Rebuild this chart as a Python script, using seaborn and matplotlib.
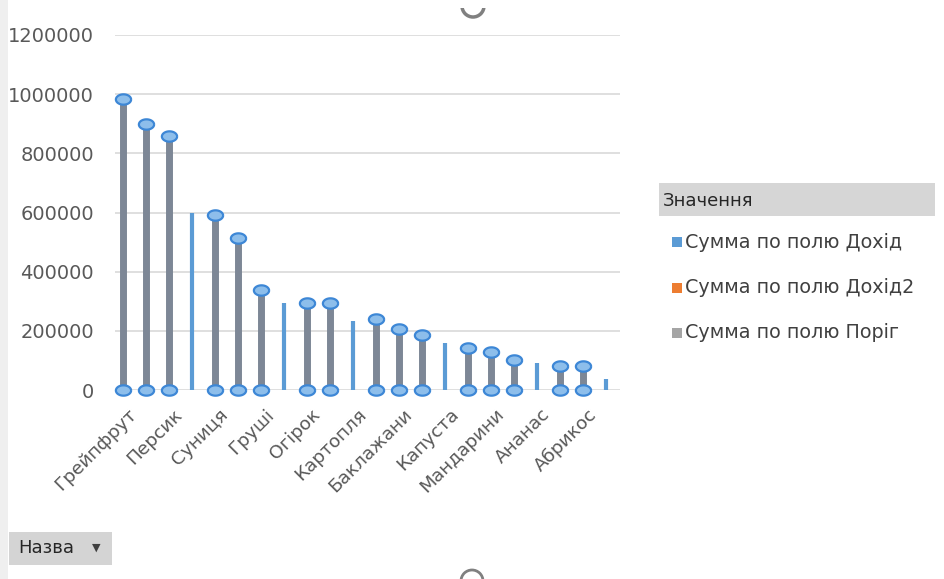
import numpy as np
import pandas as pd
import matplotlib.pyplot as plt
import matplotlib.transforms as mtransforms
from matplotlib.patches import Rectangle, Ellipse
from matplotlib.path import Path
import seaborn as sns

# tick labels (every second category is labelled in the pivot chart)
labels = ["Грейпфрут", "Персик", "Суниця", "Груші", "Огірок", "Картопля",
          "Баклажани", "Капуста", "Мандарини", "Ананас", "Абрикос"]

# Сумма по полю Дохід  (stems with markers), None where category has no such point
dohid = [985000, 898000, 857000, None, 593000, 515000, 339000, None,
         295000, 295000, None, 240000, 207000, 186000, None, 142000,
         129000, 102000, None, 81000, 81000, None]
# Сумма по полю Дохід2 (thin columns without markers)
dohid2 = [None, None, None, 597000, None, None, None, 295000,
          None, None, 234000, None, None, None, 160000, None,
          None, None, 92000, None, None, 37000]
# Сумма по полю Поріг (zero for every category)
porig = [0] * 22

series_names = ["Сумма по полю Дохід", "Сумма по полю Дохід2", "Сумма по полю Поріг"]
series_colors = ["#5B9BD5", "#ED7D31", "#A5A5A5"]

df = pd.DataFrame({"pos": np.arange(len(dohid)),
                   "dohid": pd.to_numeric(pd.Series(dohid), errors="coerce"),
                   "dohid2": pd.to_numeric(pd.Series(dohid2), errors="coerce"),
                   "porig": porig})

sns.set_style("white")
plt.rcParams["font.family"] = ["DejaVu Sans"]

W, H = 944, 579
fig = plt.figure(figsize=(W / 100, H / 100), dpi=100)
ax = fig.add_axes([115 / W, 1 - 390 / H, 505 / W, 355 / H])

# gridlines
for v in range(0, 1200001, 200000):
    ax.axhline(v, color="#D9D9D9", lw=1.2, zorder=0)

m = df.dropna(subset=["dohid"])
ax.vlines(m["pos"], m["porig"], m["dohid"], color="#7D8796", lw=5, zorder=2)
t = df.dropna(subset=["dohid2"])
ax.vlines(t["pos"], t["porig"], t["dohid2"], color="#5B9BD5", lw=3, zorder=2)

# slightly flattened circle like the Excel marker
th = np.linspace(0, 2 * np.pi, 60)
oval = Path(np.column_stack([np.cos(th), 0.68 * np.sin(th)]))

for col in ["dohid", "porig"]:
    sns.scatterplot(data=m, x="pos", y=col, ax=ax, marker=oval, s=120,
                    color="#8DBEEB", edgecolor="#3D87D6", linewidth=1.6,
                    zorder=3, clip_on=False, legend=False)

ax.set_xlim(-0.35, 21.6)
ax.set_ylim(0, 1200000)
ax.set_yticks(range(0, 1200001, 200000))
ax.set_yticklabels([str(v) for v in range(0, 1200001, 200000)])
ax.set_xticks(np.arange(0, 22, 2))
ax.set_xticklabels(labels, rotation=45, ha="right", rotation_mode="anchor")
ax.tick_params(axis="y", length=0, pad=15, labelsize=14, labelcolor="#595959")
ax.tick_params(axis="x", length=0, pad=6, labelsize=13.3, labelcolor="#595959")
shift = mtransforms.ScaledTranslation(0.04, -0.07, fig.dpi_scale_trans)
for lab in ax.get_xticklabels():
    lab.set_transform(lab.get_transform() + shift)
ax.set_xlabel("")
ax.set_ylabel("")
for s in ax.spines.values():
    s.set_visible(False)

# legend panel
fig.add_artist(Rectangle((659 / W, 1 - 216 / H), 276 / W, 33 / H,
                         transform=fig.transFigure, facecolor="#D6D6D6",
                         edgecolor="none"))
fig.text(663 / W, 1 - 201 / H, "Значення", fontsize=13, color="#262626", va="center")
for i, (name, c) in enumerate(zip(series_names, series_colors)):
    y = 242 + 45.5 * i
    fig.add_artist(Rectangle((672 / W, 1 - (y + 5) / H), 10 / W, 10 / H,
                             transform=fig.transFigure, facecolor=c, edgecolor="none"))
    fig.text(685 / W, 1 - y / H, name, fontsize=13.8, color="#404040", va="center")

# field button
fig.add_artist(Rectangle((9 / W, 1 - 565 / H), 103 / W, 33 / H,
                         transform=fig.transFigure, facecolor="#D4D4D4", edgecolor="none"))
fig.text(18 / W, 1 - 548 / H, "Назва", fontsize=13, color="#262626", va="center")
fig.text(92 / W, 1 - 548 / H, "▼", fontsize=8, color="#404040", va="center")

# selection handles and window edge
fig.add_artist(Ellipse((473 / W, 1 - 6 / H), 22 / W, 22 / H, transform=fig.transFigure,
                       facecolor="none", edgecolor="#808080", lw=2.5))
fig.add_artist(Rectangle((0, 1 - 8 / H), 1, 8 / H, transform=fig.transFigure,
                         facecolor="white", edgecolor="none"))
fig.add_artist(Ellipse((472 / W, 1 - 581 / H), 22 / W, 22 / H, transform=fig.transFigure,
                       facecolor="none", edgecolor="#808080", lw=2))
fig.add_artist(Rectangle((0, 0), 8 / W, 1, transform=fig.transFigure,
                         facecolor="#EFEFEF", edgecolor="none"))

fig.savefig("out.png", dpi=100)
